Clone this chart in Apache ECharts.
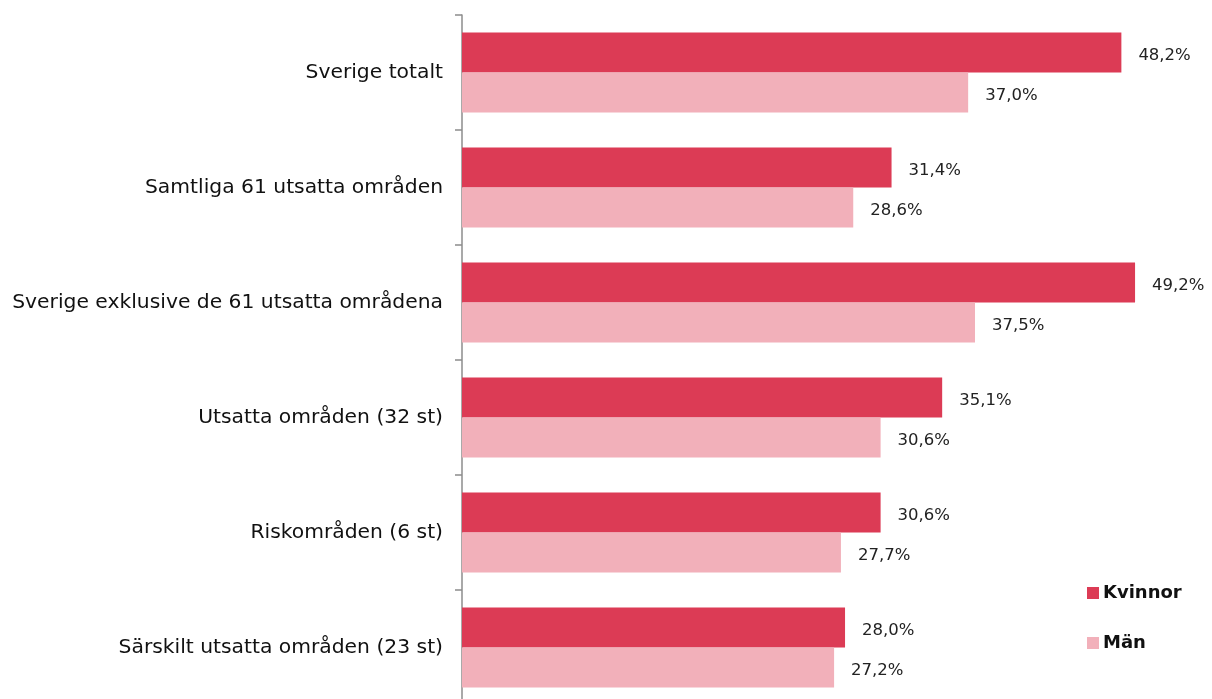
<!DOCTYPE html>
<html>
<head>
<meta charset="utf-8">
<script src="https://cdn.jsdelivr.net/npm/echarts@6/dist/echarts.min.js"></script>
<style>
  html, body { margin: 0; padding: 0; background: #fff; }
  #chart { width: 1212px; height: 699px; }
</style>
</head>
<body>
<div id="chart"></div>
<script>
var categories = [
  'Sverige totalt',
  'Samtliga 61 utsatta områden',
  'Sverige exklusive de 61 utsatta områdena',
  'Utsatta områden (32 st)',
  'Riskområden (6 st)',
  'Särskilt utsatta områden (23 st)'
];
var kvinnor = [48.2, 31.4, 49.2, 35.1, 30.6, 28.0];
var man = [37.0, 28.6, 37.5, 30.6, 27.7, 27.2];

var wideFont = '"DejaVu Sans", sans-serif';

function pct(p) {
  return p.value.toFixed(1).replace('.', ',') + '%';
}

var chart = echarts.init(document.getElementById('chart'), null, { renderer: 'canvas' });

chart.setOption({
  animation: false,
  textStyle: { fontFamily: wideFont },
  grid: { left: 462, top: 15, width: 684, height: 690, outerBoundsMode: 'none', containLabel: false },
  legend: {
    orient: 'vertical',
    left: 1087,
    top: 583,
    padding: 0,
    itemWidth: 12,
    itemHeight: 12,
    itemGap: 30,
    icon: 'rect',
    textStyle: { fontSize: 18, fontWeight: 'bold', color: '#111', fontFamily: wideFont, lineHeight: 20, padding: [0, 0, 0, -1] },
    data: ['Kvinnor', 'Män']
  },
  xAxis: {
    type: 'value',
    min: 0,
    max: 50,
    show: false
  },
  yAxis: {
    type: 'category',
    inverse: true,
    data: categories,
    axisLine: { show: true, lineStyle: { color: '#8c8c8c', width: 1.5 } },
    axisTick: { show: true, length: 7, lineStyle: { color: '#8c8c8c', width: 1.5 } },
    axisLabel: { fontSize: 20.3, color: '#111', margin: 19, fontFamily: wideFont, padding: [6, 0, 0, 0] }
  },
  series: [
    {
      name: 'Kvinnor',
      type: 'bar',
      data: kvinnor,
      barWidth: 40,
      barGap: '0%',
      itemStyle: { color: '#DC3B55' },
      label: { show: true, position: 'right', distance: 17, offset: [0, 3], fontSize: 16.5, color: '#222', formatter: pct }
    },
    {
      name: 'Män',
      type: 'bar',
      data: man,
      barWidth: 40,
      barGap: '0%',
      itemStyle: { color: '#F2B0BA' },
      label: { show: true, position: 'right', distance: 17, offset: [0, 3], fontSize: 16.5, color: '#222', formatter: pct }
    }
  ]
});
</script>
</body>
</html>
